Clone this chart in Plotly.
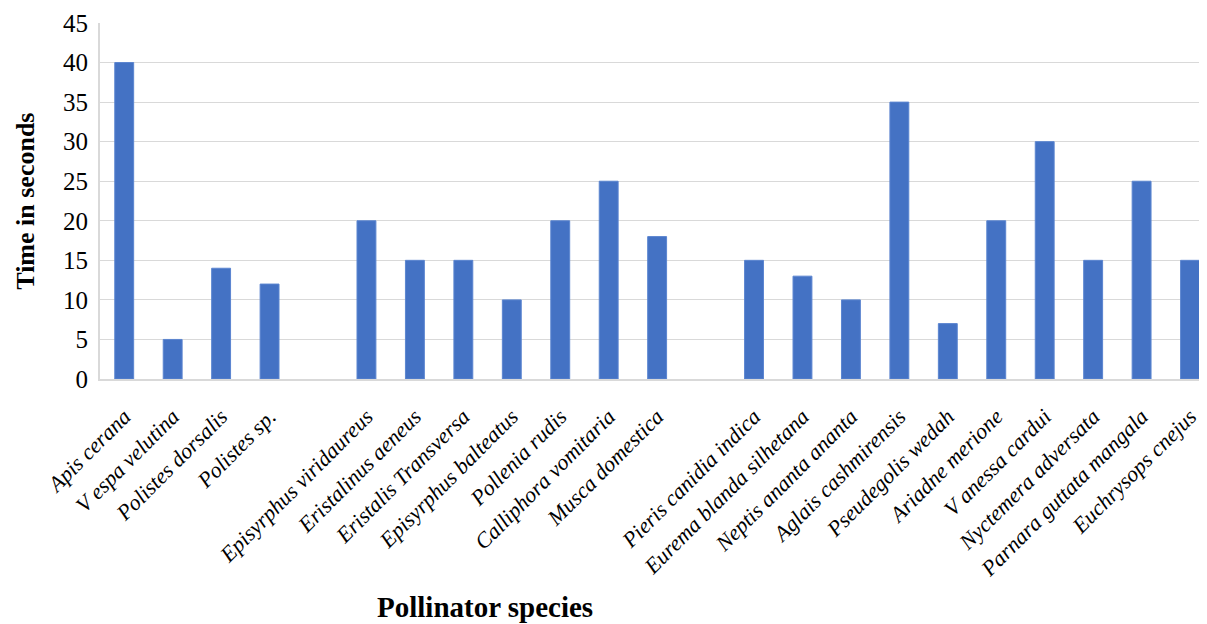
import plotly.graph_objects as go

# blank entries are the gaps between the pollinator groups
species = [
    "Apis cerana", "V espa velutina", "Polistes dorsalis", "Polistes sp.",
    " ",
    "Episyrphus viridaureus", "Eristalinus aeneus", "Eristalis Transversa",
    "Episyrphus balteatus", "Pollenia rudis", "Calliphora vomitaria",
    "Musca domestica",
    "  ",
    "Pieris canidia indica", "Eurema blanda silhetana", "Neptis ananta ananta",
    "Aglais cashmirensis", "Pseudegolis wedah", "Ariadne merione",
    "V anessa cardui", "Nyctemera adversata", "Parnara guttata mangala",
    "Euchrysops cnejus",
]
time_sec = [
    40, 5, 14, 12,
    None,
    20, 15, 15, 10, 20, 25, 18,
    None,
    15, 13, 10, 35, 7, 20, 30, 15, 25, 15,
]
y_ticks = list(range(0, 50, 5))

font = "Liberation Serif, Times New Roman, serif"

fig = go.Figure(go.Bar(
    x=species,
    y=time_sec,
    marker=dict(color="#4472C4", line=dict(color="#5b85d0", width=1)),
))

# page body has an 8px margin, so the figure is a bit smaller than the window
fig.update_layout(
    width=1199,
    height=616,
    margin=dict(l=92, r=0, t=15, b=245),
    paper_bgcolor="white",
    plot_bgcolor="white",
    bargap=0.61,
    showlegend=False,
    font=dict(family=font, color="#000000"),
    annotations=[
        dict(
            text="<b>Pollinator species</b>",
            x=0.348, y=-0.64, xref="paper", yref="paper",
            xanchor="center", yanchor="middle",
            showarrow=False, font=dict(size=29, family=font),
        ),
        dict(
            text="<b>Time in seconds</b>",
            x=-0.068, y=0.5, xref="paper", yref="paper", textangle=-90,
            xanchor="center", yanchor="middle",
            showarrow=False, font=dict(size=26, family=font),
        ),
    ],
)
fig.update_xaxes(
    categoryorder="array",
    categoryarray=species,
    range=[-0.5, 22.35],
    tickangle=-45,
    tickfont=dict(size=22, family=font, style="italic"),
    showgrid=False,
    showline=True,
    linecolor="#d9d9d9",
    linewidth=2,
    ticks="",
    ticklabelstandoff=14,
    automargin=False,
)
fig.update_yaxes(
    range=[0, 45],
    tickvals=y_ticks,
    tickfont=dict(size=25, family=font),
    showgrid=True,
    gridcolor="#d9d9d9",
    gridwidth=1,
    showline=True,
    linecolor="#d9d9d9",
    linewidth=2,
    ticks="",
    ticklabelstandoff=5,
    zeroline=False,
    automargin=False,
)

fig.write_html("out.html")
